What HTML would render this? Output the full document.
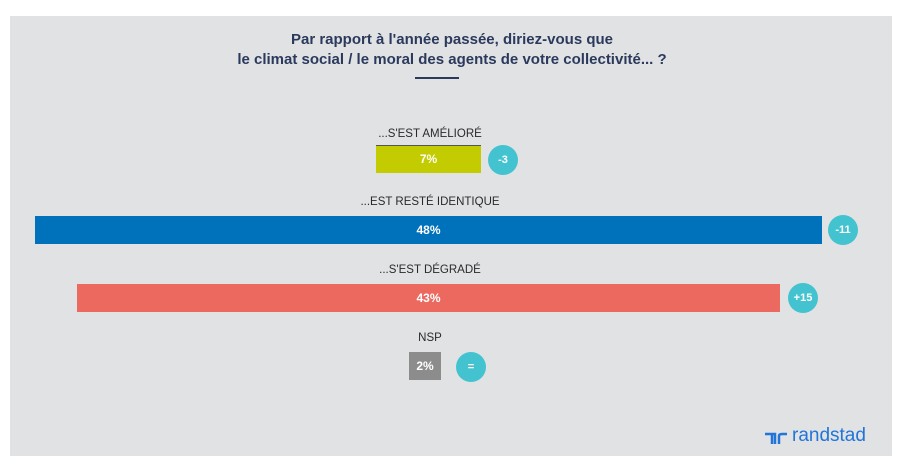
<!DOCTYPE html>
<html><head><meta charset="utf-8"><style>
body{margin:0;width:904px;height:469px;background:#fff;position:relative;overflow:hidden;font-family:"Liberation Sans",sans-serif}
.p{position:absolute;left:10px;top:16px;width:882px;height:440px;background:#e1e2e4}
.t{position:absolute;left:0;width:904px;text-align:center;color:#2b3a5c;font-weight:bold;font-size:15px}
.l{position:absolute;width:904px;text-align:center;color:#2a2a2a;font-size:11.5px}
.b{position:absolute;color:#fff;font-weight:bold;font-size:12px;text-align:center}
.c{position:absolute;width:30px;height:30px;border-radius:50%;background:#42c3cf;color:#fff;font-size:11px;text-align:center;line-height:30px;font-weight:bold}
</style></head><body>
<div class="p"></div>
<div class="t" style="top:31px">Par rapport à l'année passée, diriez-vous que</div>
<div class="t" style="top:51px">le climat social / le moral des agents de votre collectivité... ?</div>
<div style="position:absolute;left:415px;top:77px;width:44px;height:2px;background:#2b3a5c"></div>
<div class="l" style="left:-22px;top:128px">...S'EST AMÉLIORÉ</div>
<div style="position:absolute;left:376px;top:145px;width:105px;height:1px;background:#555"></div>
<div class="b" style="left:376px;top:146px;width:105px;height:27px;line-height:27px;background:#c3cc00">7%</div>
<div class="c" style="left:488px;top:145px">-3</div>
<div class="l" style="left:-22px;top:196px">...EST RESTÉ IDENTIQUE</div>
<div class="b" style="left:35px;top:216px;width:787px;height:28px;line-height:28px;background:#0072bb">48%</div>
<div class="c" style="left:828px;top:215px">-11</div>
<div class="l" style="left:-22px;top:264px">...S'EST DÉGRADÉ</div>
<div class="b" style="left:77px;top:284px;width:703px;height:28px;line-height:28px;background:#ec6960">43%</div>
<div class="c" style="left:788px;top:283px">+15</div>
<div class="l" style="left:-22px;top:332px">NSP</div>
<div class="b" style="left:409px;top:352px;width:32px;height:28px;line-height:28px;background:#8c8c8c">2%</div>
<div class="c" style="left:456px;top:352px">=</div>
<svg style="position:absolute;left:764px;top:431px" width="24" height="14"><path d="M1 3 H8 V13 M8 3 H11 V13 M15 13 V5 Q15 3 18 3 H23" fill="none" stroke="#2175d9" stroke-width="2.5"/></svg>
<div style="position:absolute;left:792px;top:425px;color:#2175d9;font-size:19px">randstad</div>
</body></html>
